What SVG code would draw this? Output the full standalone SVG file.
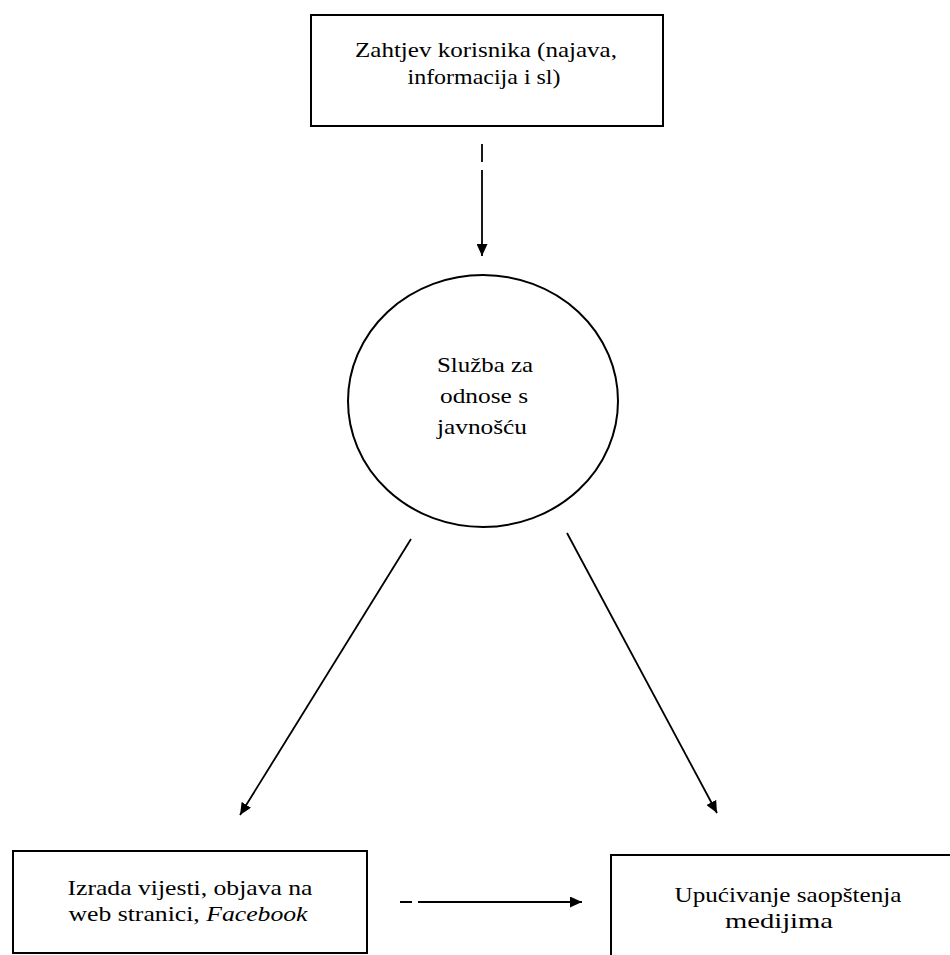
<svg xmlns="http://www.w3.org/2000/svg" width="950" height="955" viewBox="0 0 950 955">
<style>
.box{fill:#fff;stroke:#000;stroke-width:2}
.t{font-family:'Liberation Serif','Times New Roman',serif;font-size:22px;fill:#000}
.c{fill:none;stroke:#000;stroke-width:1.8}
</style>
<defs>
<marker id="ah" markerUnits="userSpaceOnUse" markerWidth="13" markerHeight="11" refX="12" refY="5.5" orient="auto">
<path d="M0,0 L12,5.5 L0,11 Z" fill="#000"/>
</marker>
</defs>
<rect width="950" height="955" fill="#fff"/>
<g id="connectors">
<path class="c" d="M482,144 L482,162 M482,170 L482,256" marker-end="url(#ah)"/>
<path class="c" d="M411,539 L240,815" marker-end="url(#ah)"/>
<path class="c" d="M567,533 L717,813" marker-end="url(#ah)"/>
<path class="c" d="M400,902 L412,902 M418,902 L582,902" marker-end="url(#ah)"/>
</g>
<g id="node-zahtjev">
<rect class="box" x="311" y="15" width="352" height="111"/>
<text class="t" x="486" y="57" text-anchor="middle" textLength="262" lengthAdjust="spacingAndGlyphs">Zahtjev korisnika (najava,</text>
<text class="t" x="484" y="84" text-anchor="middle" textLength="153" lengthAdjust="spacingAndGlyphs">informacija i sl)</text>
</g>
<g id="node-sluzba">
<ellipse cx="483" cy="401" rx="135" ry="126" fill="#fff" stroke="#000" stroke-width="2"/>
<text class="t" x="485" y="372" text-anchor="middle" textLength="96" lengthAdjust="spacingAndGlyphs">Služba za</text>
<text class="t" x="484" y="403" text-anchor="middle" textLength="88" lengthAdjust="spacingAndGlyphs">odnose s</text>
<text class="t" x="482" y="434" text-anchor="middle" textLength="90" lengthAdjust="spacingAndGlyphs">javnošću</text>
</g>
<g id="node-izrada">
<rect class="box" x="13" y="851" width="354" height="102"/>
<text class="t" x="190" y="895" text-anchor="middle" textLength="245" lengthAdjust="spacingAndGlyphs">Izrada vijesti, objava na</text>
<text class="t" x="188" y="921" text-anchor="middle" textLength="239" lengthAdjust="spacingAndGlyphs">web stranici, <tspan font-style="italic">Facebook</tspan></text>
</g>
<g id="node-upucivanje">
<rect class="box" x="611" y="855" width="345" height="110"/>
<text class="t" x="788" y="902" text-anchor="middle" textLength="227" lengthAdjust="spacingAndGlyphs">Upućivanje saopštenja</text>
<text class="t" x="779" y="928" text-anchor="middle" textLength="108" lengthAdjust="spacingAndGlyphs">medijima</text>
</g>
</svg>
